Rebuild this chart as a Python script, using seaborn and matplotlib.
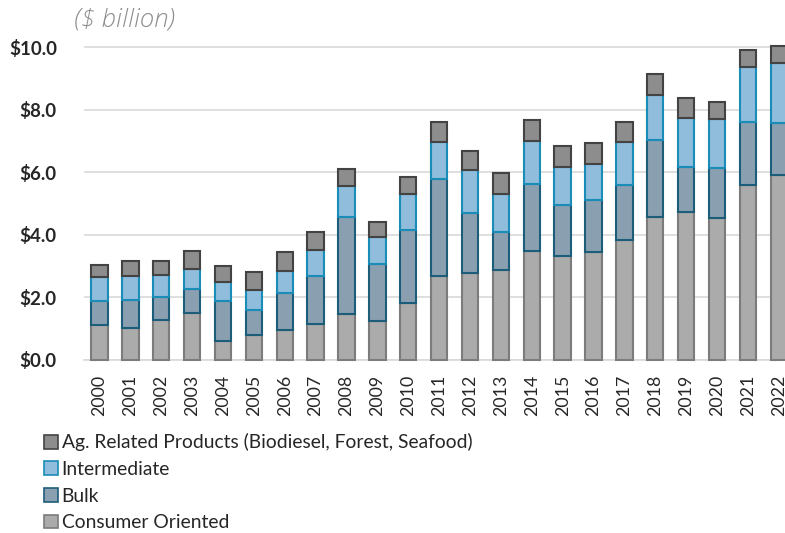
import numpy as np
import pandas as pd
import matplotlib
matplotlib.use("Agg")
from matplotlib import pyplot as plt
from matplotlib.patches import Patch
import seaborn as sns

# === Data (cumulative tops, $ billion) ===

years = [str(y) for y in range(2000, 2023)]
consumer = [1.09, 1.02, 1.27, 1.49, 0.60, 0.79, 0.93, 1.15, 1.46, 1.24, 1.81, 2.68,
            2.78, 2.86, 3.48, 3.32, 3.43, 3.84, 4.58, 4.74, 4.53, 5.60, 5.90]
bulk_top = [1.89, 1.91, 1.99, 2.26, 1.89, 1.60, 2.13, 2.69, 4.58, 3.07, 4.16, 5.80,
            4.71, 4.08, 5.61, 4.95, 5.11, 5.60, 7.04, 6.17, 6.15, 7.61, 7.59]
inter_top = [2.64, 2.68, 2.71, 2.91, 2.48, 2.23, 2.85, 3.52, 5.56, 3.93, 5.31, 6.98,
             6.07, 5.30, 6.99, 6.18, 6.28, 6.97, 8.47, 7.73, 7.70, 9.36, 9.50]
ag_top = [3.02, 3.17, 3.17, 3.47, 3.00, 2.80, 3.43, 4.09, 6.09, 4.41, 5.85, 7.61,
          6.68, 5.97, 7.67, 6.84, 6.94, 7.60, 9.15, 8.39, 8.26, 9.93, 10.06]

bulk = np.array(bulk_top) - np.array(consumer)
intermediate = np.array(inter_top) - np.array(bulk_top)
ag_related = np.array(ag_top) - np.array(inter_top)

labels = ["Consumer Oriented", "Bulk", "Intermediate",
          "Ag. Related Products (Biodiesel, Forest, Seafood)"]
faces = ["#ababab", "#8aa0b1", "#90bddb", "#8d8d8d"]
edges = ["#7c7c7c", "#1c5d7a", "#1a8cb8", "#434343"]

# === Plot ===

sns.set_style("white")
plt.rcParams["font.family"] = ["Lato", "DejaVu Sans"]

fig = plt.figure(figsize=(7.85, 5.33), dpi=100)
ax = fig.add_axes([0.107, 0.3255, 0.893, 0.603])

df = pd.DataFrame({"year": years, "consumer": consumer, "bulk": bulk,
                   "intermediate": intermediate, "ag": ag_related})
layers = [df["consumer"].to_numpy(), df["bulk"].to_numpy(),
          df["intermediate"].to_numpy(), df["ag"].to_numpy()]
bottom = np.zeros(len(years))
for vals, fc, ec in zip(layers, faces, edges):
    ax.bar(df["year"], vals, bottom=bottom, width=0.53, color=fc,
           edgecolor=ec, linewidth=1.5, zorder=3, clip_on=False)
    bottom = bottom + vals

ax.set_xlim(-0.5, 22.2)
ax.set_ylim(0, 10.3)
ax.set_yticks(np.arange(0, 10.1, 2))
ax.set_yticklabels(["${:.1f}".format(v) for v in np.arange(0, 10.1, 2)],
                   fontweight="bold", fontsize=13.5)
ax.yaxis.grid(True, color="#d9d9d9", linewidth=1.2, zorder=0)
ax.tick_params(axis="y", length=0, pad=19.5)

ax.set_xticks(range(len(years)))
ax.set_xticklabels(years, rotation=90, fontsize=12.8)
ax.tick_params(axis="x", length=0, pad=11)
ax.set_xticks(np.arange(-0.5, 22.5, 1), minor=True)
ax.tick_params(axis="x", which="minor", length=5, color="#d0d0d0", width=1)

for s in ["top", "right", "left"]:
    ax.spines[s].set_visible(False)
ax.spines["bottom"].set_color("#d9d9d9")
ax.spines["bottom"].set_linewidth(1.2)

fig.text(0.094, 0.962, "($ billion)", fontsize=18.5, style="italic",
         fontweight="light", family=["Open Sans", "DejaVu Sans"],
         color="#8c8c8c", va="center", ha="left")

handles = [Patch(facecolor=faces[i], edgecolor=edges[i], linewidth=1.2,
                 label=labels[i]) for i in range(3, -1, -1)]
fig.legend(handles=handles, loc="upper left", bbox_to_anchor=(0.056, 0.187),
           frameon=False, fontsize=13.9, handlelength=0.72, handleheight=0.72,
           handletextpad=0.2, labelspacing=0.5, borderaxespad=0, borderpad=0)

fig.savefig("out.png", dpi=100)
